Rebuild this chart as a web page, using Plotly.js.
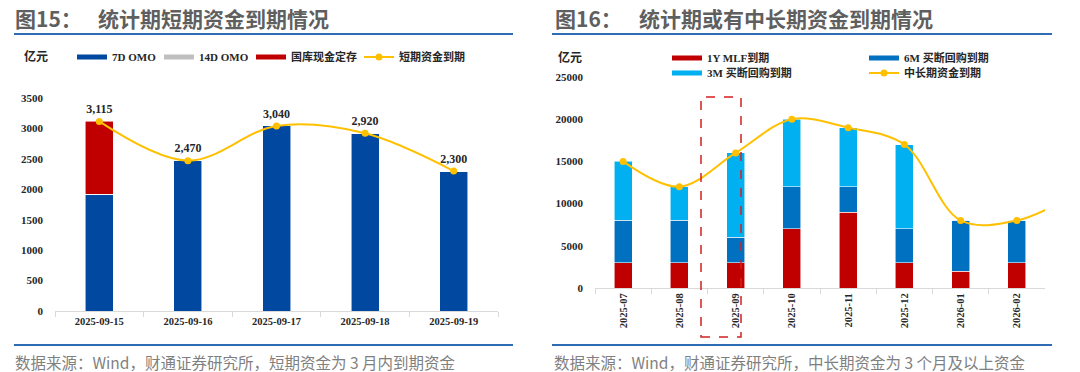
<!DOCTYPE html>
<html><head><meta charset="utf-8">
<script src="https://cdn.plot.ly/plotly-3.0.1.min.js"></script>
<style>html,body{margin:0;padding:0;background:#fff}#chart{width:1080px;height:372px}</style>
</head><body><div id="chart"></div>
<script>
// ---- Data: Figure 15 (short-term maturities, 亿元)
const days = ['2025-09-15', '2025-09-16', '2025-09-17', '2025-09-18', '2025-09-19'];
const omo7d = [1915, 2470, 3040, 2920, 2300];
const omo14d = [0, 0, 0, 0, 0];
const treasuryDeposit = [1200, 0, 0, 0, 0];
const shortTotal = [3115, 2470, 3040, 2920, 2300];

// ---- Data: Figure 16 (medium/long-term maturities, 亿元)
const months = ['2025-07', '2025-08', '2025-09', '2025-10', '2025-11', '2025-12', '2026-01', '2026-02'];
const mlf1y = [3000, 3000, 3000, 7000, 9000, 3000, 2000, 3000];
const outright6m = [5000, 5000, 3000, 5000, 3000, 4000, 6000, 5000];
const outright3m = [7000, 4000, 10000, 8000, 7000, 10000, 0, 0];
const lineMonths = ['2025-07', '2025-08', '2025-09', '2025-10', '2025-11', '2025-12', '2026-01', '2026-02', '2026-03'];
const midTotal = [15000, 12000, 16000, 20000, 19000, 17000, 8000, 8000, 11000];

const W = 1080, H = 372;
const px = v => v / W, py = v => 1 - v / H;
const SERIF = '"Liberation Serif", "Times New Roman", "Noto Sans CJK SC", serif';
const SANS = '"Noto Sans CJK SC", "Noto Sans", sans-serif';
const C = {blue7: '#0048A0', grey14: '#BFBFBF', red: '#C00000', blue6: '#0070C0', cyan3: '#00B0F0', gold: '#FFC000'};
const barLine = {color: 'rgba(255,255,255,0.7)', width: 0.8};

function bar(x, y, color, xa, ya, w) {
  return {type: 'bar', x: x, y: y, marker: {color: color, line: barLine}, width: w,
          xaxis: xa, yaxis: ya, showlegend: false, hoverinfo: 'x+y'};
}
function proxy(name, color, leg) {
  return {type: 'scatter', mode: 'lines', x: [null], y: [null], name: name,
          line: {color: color, width: 5}, legend: leg, showlegend: true, hoverinfo: 'skip'};
}

const traces = [
  bar(days, omo7d, C.blue7, 'x', 'y', 0.316),
  bar(days, omo14d, C.grey14, 'x', 'y', 0.316),
  bar(days, treasuryDeposit, C.red, 'x', 'y', 0.316),
  {type: 'scatter', mode: 'lines+markers+text', x: days, y: shortTotal, name: '短期资金到期',
   line: {color: C.gold, width: 2, shape: 'spline', smoothing: 1}, marker: {color: C.gold, size: 7},
   texttemplate: '%{y:,}', textposition: 'top center',
   textfont: {family: SERIF, size: 12, color: '#262626', weight: 'bold'},
   xaxis: 'x', yaxis: 'y', legend: 'legend4', cliponaxis: false},
  proxy('7D OMO', C.blue7, 'legend'),
  proxy('14D OMO', C.grey14, 'legend2'),
  proxy('国库现金定存', C.red, 'legend3'),

  bar(months, mlf1y, C.red, 'x2', 'y2', 0.32),
  bar(months, outright6m, C.blue6, 'x2', 'y2', 0.32),
  bar(months, outright3m, C.cyan3, 'x2', 'y2', 0.32),
  {type: 'scatter', mode: 'lines+markers', x: lineMonths, y: midTotal, name: '中长期资金到期',
   line: {color: C.gold, width: 2, shape: 'spline', smoothing: 1}, marker: {color: C.gold, size: 7},
   xaxis: 'x2', yaxis: 'y2', legend: 'legend8'},
  proxy('1Y MLF到期', C.red, 'legend5'),
  proxy('6M 买断回购到期', C.blue6, 'legend6'),
  proxy('3M 买断回购到期', C.cyan3, 'legend7')
];

function leg(textX, yc) {
  return {x: px(textX - 36), y: py(yc), xanchor: 'left', yanchor: 'middle', orientation: 'h',
          bgcolor: 'rgba(0,0,0,0)', borderwidth: 0, itemwidth: 30,
          font: {family: SERIF, size: 11, color: '#262626', weight: 'bold'},
          itemclick: false, itemdoubleclick: false};
}

const tickFont = {family: SERIF, size: 11, color: '#262626', weight: 'bold'};
const xTickFont = {family: SERIF, size: 10.5, color: '#262626', weight: 'bold'};

function ann(text, x, y, font, anchor) {
  return {text: text, x: px(x), y: py(y), xref: 'paper', yref: 'paper', xanchor: anchor || 'left',
          yanchor: 'middle', showarrow: false, font: font};
}
const titleFont = {family: SANS, size: 21, color: '#5F5F5F', weight: 'bold'};
const noteFont = {family: SANS, size: 15.5, color: '#7F7F7F'};
const unitFont = {family: SERIF, size: 12, color: '#262626', weight: 'bold'};

function hline(x0, x1, y) {
  return {type: 'line', xref: 'paper', yref: 'paper', x0: px(x0), x1: px(x1), y0: py(y), y1: py(y),
          line: {color: '#2E6DB4', width: 2}};
}

const layout = {
  width: W, height: H, margin: {l: 0, r: 0, t: 0, b: 0},
  paper_bgcolor: '#ffffff', plot_bgcolor: 'rgba(0,0,0,0)',
  barmode: 'stack', bargap: 0, hovermode: false,
  xaxis: {domain: [px(55), px(498)], anchor: 'y', type: 'category', range: [-0.5, 4.5],
          showline: true, linecolor: '#D9D9D9', linewidth: 1, ticks: 'outside', tickson: 'boundaries',
          ticklen: 5, tickcolor: '#D9D9D9', tickfont: xTickFont, showgrid: false, fixedrange: true},
  yaxis: {domain: [py(311), py(98)], anchor: 'x', range: [0, 3500], dtick: 500, tickformat: 'd', showgrid: false,
          zeroline: false, showline: false, ticks: '', ticklabelstandoff: 11, tickfont: tickFont, fixedrange: true},
  xaxis2: {domain: [px(595), px(1045)], anchor: 'y2', type: 'category', range: [-0.5, 7.5],
           showline: true, linecolor: '#D9D9D9', linewidth: 1, ticks: 'outside', tickson: 'boundaries',
           ticklen: 5, tickcolor: '#D9D9D9', tickangle: -90, tickfont: xTickFont, showgrid: false, fixedrange: true},
  yaxis2: {domain: [py(288), py(77)], anchor: 'x2', range: [0, 25000], dtick: 5000, tickformat: 'd', showgrid: false,
           zeroline: false, showline: false, ticks: '', ticklabelstandoff: 11, tickfont: tickFont, fixedrange: true},
  legend: leg(108, 57), legend2: leg(195, 57), legend3: leg(287, 57), legend4: leg(395, 57),
  legend5: leg(703, 58), legend6: leg(900, 58), legend7: leg(703, 73), legend8: leg(900, 73),
  annotations: [
    ann('图15：', 13, 18, titleFont), ann('统计期短期资金到期情况', 96, 18, titleFont),
    ann('图16：', 553, 18, titleFont), ann('统计期或有中长期资金到期情况', 637, 18, titleFont),
    ann('亿元', 22, 57, unitFont), ann('亿元', 556, 58, unitFont),
    ann('数据来源：Wind，财通证券研究所，短期资金为 3 月内到期资金', 13, 362, noteFont),
    ann('数据来源：Wind，财通证券研究所，中长期资金为 3 个月及以上资金', 552, 362, noteFont)
  ],
  shapes: [
    hline(14, 513, 34), hline(14, 513, 345), hline(552, 1052, 34), hline(552, 1052, 345),
    {type: 'rect', xref: 'paper', yref: 'paper', x0: px(701), x1: px(741), y0: py(337), y1: py(97),
     line: {color: '#D42020', width: 1.5, dash: 'dash'}, fillcolor: 'rgba(0,0,0,0)'}
  ]
};

Plotly.newPlot('chart', traces, layout, {displayModeBar: false, staticPlot: true});
</script></body></html>
